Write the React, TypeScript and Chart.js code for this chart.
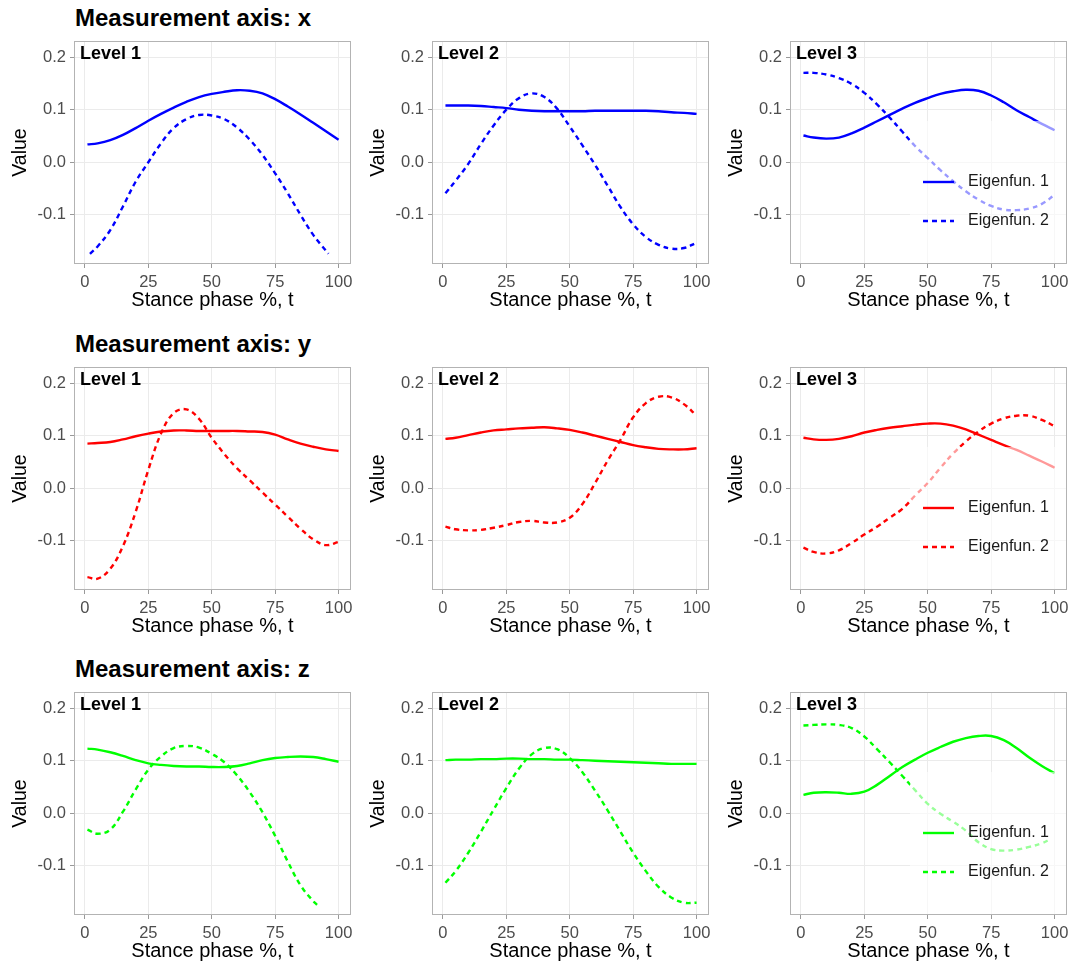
import React, { useEffect, useRef } from 'react';
import { Chart, registerables } from 'chart.js';

Chart.register(...registerables);

// ---------------- data ----------------
const T = [1, 5, 10, 15, 20, 25, 30, 35, 40, 45, 50, 55, 60, 65, 70, 75, 80, 85, 90, 95, 100];
const X_TICKS = [0, 25, 50, 75, 100];
const X_TICK_LABELS = ['0', '25', '50', '75', '100'];
const Y_TICKS = [-0.1, 0, 0.1, 0.2];
const Y_TICK_LABELS = ['-0.1', '0.0', '0.1', '0.2'];
const AXIS_NAMES = ['x', 'y', 'z'];
const LEVELS = ['Level 1', 'Level 2', 'Level 3'];
const SERIES_LABELS = ['Eigenfun. 1', 'Eigenfun. 2'];
const AXIS_COLORS = ['#0000FF', '#FF0000', '#00FF00'];
const X_TITLE = 'Stance phase %, t';
const Y_TITLE = 'Value';

// Measurement axis x
const X_L1_E1 = [0.034, 0.036, 0.042, 0.052, 0.065, 0.079, 0.092, 0.104, 0.115, 0.124, 0.130, 0.134, 0.137, 0.136, 0.131, 0.120, 0.106, 0.091, 0.075, 0.059, 0.043];
const X_L1_E2_T = [2, 5, 10, 15, 20, 25, 30, 35, 40, 45, 50, 55, 60, 65, 70, 75, 80, 85, 90, 95, 96];
const X_L1_E2 = [-0.174, -0.160, -0.129, -0.084, -0.037, 0.000, 0.036, 0.065, 0.082, 0.090, 0.089, 0.082, 0.066, 0.043, 0.014, -0.021, -0.059, -0.100, -0.138, -0.168, -0.174];
const X_L2_E1 = [0.108, 0.108, 0.108, 0.107, 0.105, 0.103, 0.100, 0.098, 0.097, 0.097, 0.097, 0.097, 0.098, 0.098, 0.098, 0.098, 0.098, 0.097, 0.095, 0.094, 0.092];
const X_L2_E2 = [-0.059, -0.035, -0.003, 0.035, 0.070, 0.100, 0.122, 0.131, 0.124, 0.102, 0.068, 0.032, -0.005, -0.045, -0.085, -0.118, -0.142, -0.157, -0.164, -0.163, -0.153];
const X_L3_E1 = [0.051, 0.047, 0.045, 0.047, 0.055, 0.066, 0.078, 0.090, 0.102, 0.113, 0.122, 0.130, 0.135, 0.138, 0.136, 0.127, 0.114, 0.099, 0.086, 0.073, 0.061];
const X_L3_E2 = [0.170, 0.170, 0.167, 0.160, 0.149, 0.132, 0.110, 0.085, 0.058, 0.031, 0.008, -0.015, -0.036, -0.055, -0.071, -0.083, -0.090, -0.091, -0.088, -0.079, -0.062];

// Measurement axis y
const Y_L1_E1 = [0.085, 0.086, 0.088, 0.093, 0.099, 0.104, 0.108, 0.110, 0.110, 0.109, 0.109, 0.109, 0.109, 0.108, 0.107, 0.102, 0.093, 0.085, 0.079, 0.074, 0.071];
const Y_L1_E2 = [-0.169, -0.172, -0.153, -0.110, -0.045, 0.035, 0.104, 0.143, 0.150, 0.132, 0.096, 0.065, 0.038, 0.015, -0.008, -0.031, -0.054, -0.077, -0.097, -0.108, -0.102];
const Y_L2_E1 = [0.094, 0.096, 0.101, 0.106, 0.110, 0.112, 0.114, 0.115, 0.116, 0.114, 0.111, 0.106, 0.100, 0.094, 0.088, 0.082, 0.078, 0.075, 0.074, 0.074, 0.076];
const Y_L2_E2 = [-0.073, -0.078, -0.080, -0.079, -0.075, -0.070, -0.064, -0.062, -0.065, -0.065, -0.056, -0.030, 0.010, 0.053, 0.092, 0.135, 0.162, 0.174, 0.173, 0.160, 0.138];
const Y_L3_E1 = [0.096, 0.093, 0.092, 0.094, 0.099, 0.106, 0.111, 0.115, 0.118, 0.121, 0.123, 0.123, 0.119, 0.112, 0.102, 0.092, 0.082, 0.073, 0.062, 0.051, 0.039];
const Y_L3_E2 = [-0.113, -0.121, -0.124, -0.118, -0.104, -0.088, -0.073, -0.056, -0.039, -0.014, 0.010, 0.039, 0.066, 0.089, 0.108, 0.123, 0.133, 0.138, 0.138, 0.130, 0.118];

// Measurement axis z
const Z_L1_E1 = [0.123, 0.121, 0.116, 0.109, 0.101, 0.095, 0.092, 0.090, 0.089, 0.089, 0.088, 0.088, 0.090, 0.095, 0.101, 0.105, 0.107, 0.108, 0.107, 0.103, 0.098];
const Z_L1_E2_T = [1, 5, 10, 15, 20, 25, 30, 35, 40, 45, 50, 55, 60, 65, 70, 75, 80, 85, 90, 91.5];
const Z_L1_E2 = [-0.031, -0.039, -0.031, 0.003, 0.045, 0.083, 0.108, 0.124, 0.128, 0.125, 0.113, 0.097, 0.072, 0.040, 0.002, -0.043, -0.092, -0.137, -0.167, -0.174];
const Z_L2_E1 = [0.101, 0.102, 0.102, 0.103, 0.103, 0.104, 0.104, 0.103, 0.103, 0.102, 0.102, 0.101, 0.100, 0.099, 0.098, 0.097, 0.096, 0.095, 0.094, 0.094, 0.094];
const Z_L2_E2 = [-0.132, -0.110, -0.075, -0.035, 0.007, 0.048, 0.085, 0.112, 0.124, 0.122, 0.105, 0.078, 0.043, 0.005, -0.035, -0.075, -0.110, -0.140, -0.160, -0.170, -0.170];
const Z_L3_E1 = [0.035, 0.039, 0.040, 0.039, 0.037, 0.041, 0.054, 0.071, 0.088, 0.102, 0.115, 0.126, 0.136, 0.143, 0.147, 0.147, 0.139, 0.124, 0.106, 0.090, 0.076];
const Z_L3_E2_T = [1, 5, 10, 15, 20, 25, 30, 35, 40, 45, 50, 55, 60, 65, 70, 75, 80, 85, 90, 95, 98];
const Z_L3_E2 = [0.167, 0.168, 0.169, 0.168, 0.162, 0.146, 0.122, 0.097, 0.071, 0.044, 0.018, -0.001, -0.016, -0.033, -0.055, -0.068, -0.071, -0.069, -0.064, -0.057, -0.050];

type Series = { t: number[]; y: number[] };
const PANELS: { e1: Series; e2: Series }[][] = [
  [
    { e1: { t: T, y: X_L1_E1 }, e2: { t: X_L1_E2_T, y: X_L1_E2 } },
    { e1: { t: T, y: X_L2_E1 }, e2: { t: T, y: X_L2_E2 } },
    { e1: { t: T, y: X_L3_E1 }, e2: { t: T, y: X_L3_E2 } },
  ],
  [
    { e1: { t: T, y: Y_L1_E1 }, e2: { t: T, y: Y_L1_E2 } },
    { e1: { t: T, y: Y_L2_E1 }, e2: { t: T, y: Y_L2_E2 } },
    { e1: { t: T, y: Y_L3_E1 }, e2: { t: T, y: Y_L3_E2 } },
  ],
  [
    { e1: { t: T, y: Z_L1_E1 }, e2: { t: Z_L1_E2_T, y: Z_L1_E2 } },
    { e1: { t: T, y: Z_L2_E1 }, e2: { t: T, y: Z_L2_E2 } },
    { e1: { t: T, y: Z_L3_E1 }, e2: { t: Z_L3_E2_T, y: Z_L3_E2 } },
  ],
];

// ---------------- layout ----------------
const X_MIN = -4.3;
const X_MAX = 104.9;
const Y_MIN = -0.1934;
const Y_MAX = 0.2306;
const PLOT_LEFTS = [74, 432, 790];
const PLOT_TOPS = [41, 367, 692];
const PLOT_W = 277;
const PLOT_H = 223;
const Y_AXIS_W = 74;
const X_AXIS_H = 50;
const PAD_T = 6;
const PAD_R = 8;
const FONT = '"Liberation Sans", Arial, Helvetica, sans-serif';

const decoPlugin = {
  id: 'panelDeco',
  afterDatasetsDraw(chart: any, _args: any, opts: any) {
    const { ctx, chartArea: a } = chart;
    ctx.save();
    if (opts.legend) {
      const bx = a.left + 120;
      const by = a.top + 80;
      ctx.fillStyle = 'rgba(255,255,255,0.6)';
      ctx.fillRect(bx, by, a.right - bx, a.bottom - by);
      chart.data.datasets.forEach((ds: any, i: number) => {
        const y = a.top + 141 + i * 39;
        ctx.strokeStyle = ds.borderColor;
        ctx.lineWidth = ds.borderWidth;
        ctx.lineCap = 'butt';
        ctx.setLineDash(ds.borderDash || []);
        ctx.beginPath();
        ctx.moveTo(a.left + 133, y);
        ctx.lineTo(a.left + 164, y);
        ctx.stroke();
        ctx.setLineDash([]);
        ctx.fillStyle = '#1a1a1a';
        ctx.font = `16px ${FONT}`;
        ctx.textAlign = 'left';
        ctx.textBaseline = 'middle';
        ctx.fillText(ds.label, a.left + 178, y);
      });
    }
    ctx.strokeStyle = '#b3b3b3';
    ctx.lineWidth = 1;
    ctx.strokeRect(Math.round(a.left) + 0.5, Math.round(a.top) + 0.5, Math.round(a.right - a.left) - 1, Math.round(a.bottom - a.top) - 1);
    ctx.fillStyle = '#000';
    ctx.font = `bold 18px ${FONT}`;
    ctx.textAlign = 'left';
    ctx.textBaseline = 'alphabetic';
    ctx.fillText(opts.title, a.left + 6, a.top + 18);
    ctx.restore();
  },
};

function Panel({ row, col }: { row: number; col: number }) {
  const ref = useRef<HTMLCanvasElement | null>(null);
  const width = Y_AXIS_W + PLOT_W + PAD_R;
  const height = PAD_T + PLOT_H + X_AXIS_H;
  useEffect(() => {
    if (!ref.current) return;
    const spec = PANELS[row][col];
    const color = AXIS_COLORS[row];
    const mk = (s: Series) => s.t.map((t, i) => ({ x: t, y: s.y[i] }));
    const chart = new Chart(ref.current, {
      type: 'line',
      data: {
        datasets: [
          {
            label: SERIES_LABELS[0],
            data: mk(spec.e1),
            borderColor: color,
            backgroundColor: color,
            borderWidth: 2.4,
            pointRadius: 0,
            fill: false,
            tension: 0.4,
          },
          {
            label: SERIES_LABELS[1],
            data: mk(spec.e2),
            borderColor: color,
            backgroundColor: color,
            borderWidth: 2.4,
            borderDash: [5, 4],
            pointRadius: 0,
            fill: false,
            tension: 0.4,
          },
        ],
      } as any,
      options: {
        animation: false,
        responsive: false,
        devicePixelRatio: 1,
        events: [],
        layout: { padding: { top: PAD_T, right: PAD_R, left: 0, bottom: 0 } },
        plugins: {
          legend: { display: false },
          tooltip: { enabled: false },
          panelDeco: { title: LEVELS[col], legend: col === 2 },
        } as any,
        scales: {
          x: {
            type: 'linear',
            min: X_MIN,
            max: X_MAX,
            afterBuildTicks: (s: any) => {
              s.ticks = X_TICKS.map((v) => ({ value: v }));
            },
            afterFit: (s: any) => {
              s.height = X_AXIS_H;
              s.paddingLeft = 0;
              s.paddingRight = 0;
              s.paddingTop = 0;
              s.paddingBottom = 0;
            },
            ticks: {
              color: '#4d4d4d',
              font: { size: 16.5, family: FONT },
              padding: 5,
              maxRotation: 0,
              autoSkip: false,
              callback: (_v: any, i: number) => X_TICK_LABELS[i],
            },
            grid: { color: '#ebebeb', lineWidth: 1, tickLength: 4, tickColor: '#999999', tickWidth: 1 },
            border: { display: false },
            title: {
              display: true,
              text: X_TITLE,
              color: '#000',
              font: { size: 20, family: FONT },
              padding: { top: 0, bottom: 2 },
            },
          },
          y: {
            type: 'linear',
            min: Y_MIN,
            max: Y_MAX,
            afterBuildTicks: (s: any) => {
              s.ticks = Y_TICKS.map((v) => ({ value: v }));
            },
            afterFit: (s: any) => {
              s.width = Y_AXIS_W;
              s.paddingLeft = 0;
              s.paddingRight = 0;
              s.paddingTop = 0;
              s.paddingBottom = 0;
            },
            ticks: {
              color: '#4d4d4d',
              font: { size: 16.5, family: FONT },
              padding: 4,
              autoSkip: false,
              callback: (_v: any, i: number) => Y_TICK_LABELS[i],
            },
            grid: { color: '#ebebeb', lineWidth: 1, tickLength: 4, tickColor: '#999999', tickWidth: 1 },
            border: { display: false },
            title: {
              display: true,
              text: Y_TITLE,
              color: '#000',
              font: { size: 19.5, family: FONT },
              padding: { top: 9, bottom: 0 },
            },
          },
        },
      } as any,
      plugins: [decoPlugin as any],
    });
    return () => chart.destroy();
  }, [row, col]);
  return (
    <canvas
      ref={ref}
      width={width}
      height={height}
      style={{
        position: 'absolute',
        left: PLOT_LEFTS[col] - Y_AXIS_W,
        top: PLOT_TOPS[row] - PAD_T,
        width,
        height,
      }}
    />
  );
}

export default function App() {
  return (
    <div
      style={{
        position: 'absolute',
        left: 0,
        top: 0,
        width: 1072,
        height: 968,
        overflow: 'hidden',
        background: '#fff',
        fontFamily: FONT,
      }}
    >
      {AXIS_NAMES.map((ax, r) => (
        <div
          key={'t' + r}
          style={{
            position: 'absolute',
            left: 75,
            top: PLOT_TOPS[r] - 35,
            fontSize: 24,
            lineHeight: '24px',
            fontWeight: 'bold',
            color: '#000',
            whiteSpace: 'nowrap',
          }}
        >
          {`Measurement axis: ${ax}`}
        </div>
      ))}
      {[0, 1, 2].map((r) =>
        [0, 1, 2].map((c) => <Panel key={`${r}-${c}`} row={r} col={c} />)
      )}
    </div>
  );
}
